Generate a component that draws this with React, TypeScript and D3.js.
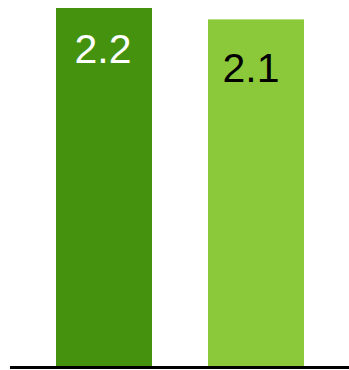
import React from "react";
import * as d3 from "d3";

const categories = ["A", "B"];
const values = [2.2, 2.13];
const labels = ["2.2", "2.1"];
const colors = ["#44920e", "#8cc93a"];
const labelColors = ["#ffffff", "#000000"];

const labelDy = [55, 63];
const labelDx = [-1, -5];

const W = 349;
const H = 370;

export default function App() {
  const xs = d3.scalePoint<string>().domain(categories).range([104, 256]);
  const bw = 96;
  const y = d3.scaleLinear().domain([0, 2.2]).range([366, 8]);
  return (
    <svg width={W} height={H} style={{ position: "absolute", left: 0, top: 0, display: "block" }}>
      <rect x={0} y={0} width={W} height={H} fill="#ffffff" />
      {categories.map((c, i) => (
        <g key={c}>
          <rect x={(xs(c) as number) - bw / 2} y={y(values[i])} width={bw} height={y(0) - y(values[i])} fill={colors[i]} />
          <text
            x={(xs(c) as number) + labelDx[i]}
            y={y(values[i]) + labelDy[i]}
            textAnchor="middle"
            fontFamily="Liberation Sans, Arial, sans-serif"
            fontSize={41}
            fill={labelColors[i]}
          >
            {labels[i]}
          </text>
        </g>
      ))}
      <line x1={10} x2={349} y1={367.5} y2={367.5} stroke="#000" strokeWidth={3} />
    </svg>
  );
}
